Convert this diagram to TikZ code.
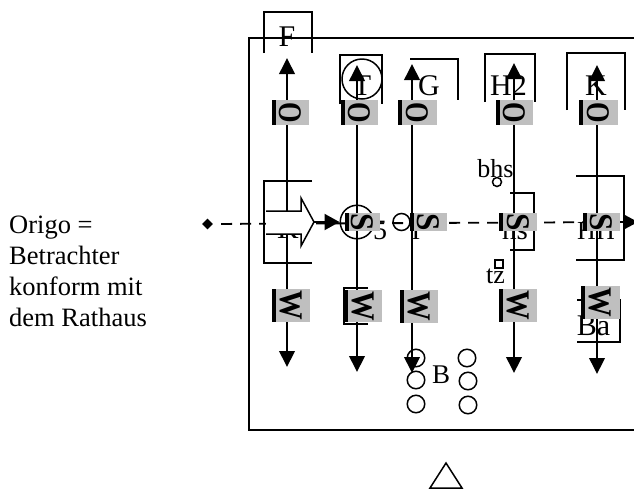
\documentclass[tikz,border=0pt]{standalone}
\usepackage{fontspec}
\setmainfont{Liberation Serif}
\usetikzlibrary{arrows.meta,shapes.geometric}
\definecolor{boxgray}{gray}{0.75}
\tikzset{
  x=1pt,y=-1pt,
  ln/.style={line width=1.5pt,black},
  brk/.style={line width=1.4pt,black},
  vert/.style={line width=2pt,black,{Triangle[length=16pt,width=15.5pt]}-{Triangle[length=16pt,width=15.5pt]}},
  lab/.style={font=\fontsize{30}{30}\selectfont,inner sep=0pt,anchor=base},
  small lab/.style={font=\fontsize{26}{26}\selectfont,inner sep=0pt,anchor=base},
  glyph/.style={font=\fontsize{33}{33}\selectfont\bfseries,inner sep=0pt},
  ring/.style={circle,draw,line width=1.5pt,inner sep=0pt,fill=none},
  dashaxis/.style={line width=1.8pt,dash pattern=on 11pt off 8pt,dash phase=11pt},
}
\newcommand{\graybox}[6]{%
  \fill[boxgray] (#2,#3) rectangle (#4,#5);
  \fill[black] (#2,#3) rectangle ({#2+4.3},#5);
  \node[glyph,rotate=-90] (#1) at ({(#2+#4)/2},{(#3+#5)/2}) {#6};
}
\newcommand{\glO}{\scalebox{0.8}[1]{O}}
\newcommand{\glS}{\scalebox{0.95}[1]{S}}
\newcommand{\glW}{\scalebox{0.9}[1]{W}}
\begin{document}
\begin{tikzpicture}
\useasboundingbox (0,0) rectangle (634,491);
\clip (0,0) rectangle (634,491);
% side text
\node[inner sep=0pt,align=left,anchor=north west,font=\fontsize{26.5}{31}\selectfont] (origo) at (9,216) {Origo =\\Betrachter\\konform mit\\dem Rathaus};
% frame
\draw[ln] (634,38) -- (249,38) -- (249,430) -- (634,430);
% labels
\node[lab] (F) at (287,46.5) {F};
\node[lab] (Tl) at (362,95) {T};
\node[lab] (G) at (429,95) {G};
\node[lab] (H2) at (508.5,95) {H2};
\node[lab] (K2) at (596,95) {K};
\node[lab] (K1) at (288,238) {K};
\node[lab,font=\fontsize{28}{28}\selectfont] (five) at (380,239) {5};
\node[small lab] (I) at (416,239) {I};
\node[lab,font=\fontsize{29}{29}\selectfont] (hs) at (515,239) {hs};
\node[small lab] (HH) at (596,239) {HH};
\node[small lab] (bhs) at (495.5,177) {bhs};
\node[small lab] (tz) at (495.5,283) {tz};
\node[lab,font=\fontsize{27}{27}\selectfont] (Bb) at (441,383) {B};
\node[lab] (Ba) at (593.5,335) {Ba};
% brackets
\draw[brk] (264,53) -- (264,12) -- (312,12) -- (312,53);
\draw[brk] (340,104) -- (340,55) -- (382,55) -- (382,104);
\draw[brk] (410,59) -- (458,59) -- (458,100);
\draw[brk] (485,102) -- (485,54) -- (535,54) -- (535,102);
\draw[brk] (567,110) -- (567,53) -- (625,53) -- (625,110);
\draw[brk] (312,181) -- (264,181) -- (264,263) -- (312,263);
\draw[brk] (510,193) -- (534,193) -- (534,250) -- (510,250);
\draw[brk] (576,176) -- (624,176) -- (624,260) -- (576,260);
\draw[brk] (577,300) -- (620,300) -- (620,342) -- (577,342);
\draw[brk] (368,288) -- (344,288) -- (344,324) -- (368,324);
% vertical arrows
\coordinate (t1) at (287,58); \coordinate (b1) at (287,367);
\coordinate (t2) at (357,65); \coordinate (b2) at (357,372);
\coordinate (t3) at (412,64); \coordinate (b3) at (412,373);
\coordinate (t4) at (514,63); \coordinate (b4) at (514,373);
\coordinate (t5) at (597,65); \coordinate (b5) at (597,374);
\foreach \i in {1,...,5} \draw[vert] (t\i) -- (b\i);
% circles
\node[ring,minimum size=40pt] (cT) at (362,79) {};
\node[ring,minimum size=33.5pt] (cS) at (357,222) {};
\node[ring,minimum size=17pt] (cI) at (401.5,222) {};
\node[ring,minimum size=9pt] (cb) at (497,182) {};
\node[draw,line width=1.4pt,inner sep=0pt,minimum size=8pt] (st) at (499,264) {};
\node[ring,minimum size=17.5pt] (o1) at (416,358) {};
\node[ring,minimum size=17.5pt] (o2) at (416,380) {};
\node[ring,minimum size=17.5pt] (o3) at (416,404) {};
\node[ring,minimum size=17.5pt] (o4) at (467,358) {};
\node[ring,minimum size=17.5pt] (o5) at (468,381) {};
\node[ring,minimum size=17.5pt] (o6) at (468,405) {};
% dashed axis
\node[diamond,fill=black,inner sep=0pt,minimum size=11pt] (dia) at (207.5,224) {};
\coordinate (endR) at (638,222);
\coordinate (headR) at (623,222);
\draw[dashaxis] (dia) -- (endR);
\draw[-{Triangle[length=15pt,width=15.5pt]},line width=2pt] (headR) -- (endR);
% gray boxes
\graybox{o1g}{272}{100}{309}{125}{\glO}
\graybox{o2g}{341}{100}{378}{125}{\glO}
\graybox{o3g}{398}{100}{437}{125}{\glO}
\graybox{o4g}{496}{100}{533}{125}{\glO}
\graybox{o5g}{579}{100}{618}{125}{\glO}
\graybox{s1g}{345}{213}{380}{231}{\glS}
\graybox{s2g}{410}{213}{447}{231}{\glS}
\graybox{s3g}{499}{213}{537}{231}{\glS}
\graybox{s4g}{583}{213}{620}{231}{\glS}
\graybox{w1g}{272}{289}{310}{322}{\glW}
\graybox{w2g}{344}{290}{382}{322}{\glW}
\graybox{w3g}{400}{290}{438}{323}{\glW}
\graybox{w4g}{499}{289}{537}{322}{\glW}
\graybox{w5g}{581}{286}{620}{319}{\glW}
% block arrow
\coordinate (arrS) at (314,222);
\draw[ln,fill=white] (266,211) -- (301,211) -- (301,198) -- (arrS) -- (301,246) -- (301,234) -- (266,234);
\draw[line width=2pt,-{Triangle[length=15pt,width=16pt]}] (arrS) -- (cS.west);
% triangle
\draw[ln,line join=miter] (446,463) -- (430,488) -- (462,488) -- cycle;
\end{tikzpicture}
\end{document}
